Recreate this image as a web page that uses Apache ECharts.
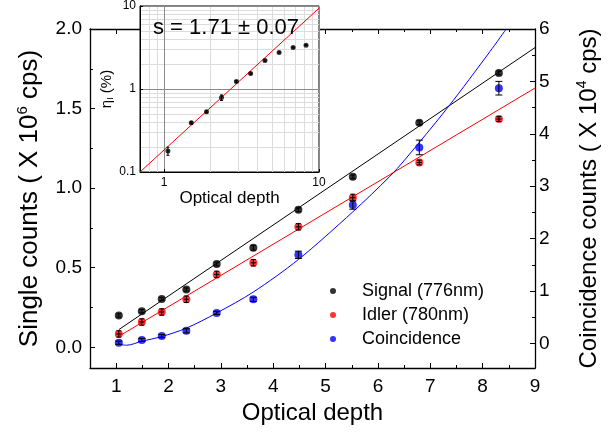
<!DOCTYPE html>
<html>
<head>
<meta charset="utf-8">
<script src="https://cdn.jsdelivr.net/npm/echarts@6/dist/echarts.min.js"></script>
<style>html,body{margin:0;padding:0;background:#fff}#c{width:616px;height:434px}</style>
</head>
<body>
<div id="c"></div>
<script>
// ---------- data ----------
const opticalDepth = [1.05, 1.49, 1.87, 2.34, 2.92, 3.62, 4.48, 5.52, 6.79, 8.31];
const signalCounts = [0.200, 0.227, 0.304, 0.363, 0.523, 0.625, 0.864, 1.071, 1.411, 1.724];
const signalErr    = [0.010, 0.010, 0.010, 0.010, 0.012, 0.015, 0.012, 0.012, 0.012, 0.012];
const idlerCounts  = [0.084, 0.159, 0.222, 0.302, 0.458, 0.531, 0.757, 0.940, 1.161, 1.434];
const idlerErr     = [0.020, 0.020, 0.020, 0.020, 0.020, 0.020, 0.020, 0.022, 0.015, 0.015];
const idlerXErr    = [0.05, 0.05, 0.05, 0.05, 0.05, 0.05, 0.05, 0.05, 0.05, 0.05];
const coincCounts  = [0.013, 0.065, 0.14, 0.24, 0.58, 0.84, 1.69, 2.64, 3.74, 4.87];
const coincErr     = [0.03, 0.03, 0.03, 0.04, 0.03, 0.04, 0.07, 0.08, 0.14, 0.13];

const signalFitX = [1.05, 9];
const signalFitY = [0.111, 1.883];
const idlerFitX  = [1.05, 9];
const idlerFitY  = [0.069, 1.629];
const coincFitX  = [1.05, 1.2, 1.49, 1.87, 2.34, 2.92, 3.62, 4.48, 5.52, 6.22, 6.51, 7.34, 8.14, 8.45];
const coincFitY  = [-0.02, -0.035, 0.04, 0.13, 0.29, 0.58, 0.98, 1.60, 2.51, 3.18, 3.50, 4.51, 5.57, 6.0];

const xMajorTicks = [1, 2, 3, 4, 5, 6, 7, 8, 9];
const xMinorTicks = [1.5, 2.5, 3.5, 4.5, 5.5, 6.5, 7.5, 8.5];
const leftMajorTicks = [0, 0.5, 1.0, 1.5, 2.0];
const leftMinorTicks = [0.25, 0.75, 1.25, 1.75];
const rightMajorTicks = [0, 1, 2, 3, 4, 5, 6];
const rightMinorTicks = [0.5, 1.5, 2.5, 3.5, 4.5, 5.5];

// inset
const insetDepth  = [1.06, 1.50, 1.88, 2.35, 2.93, 3.62, 4.48, 5.53, 6.81, 8.25];
const insetEta    = [0.179, 0.391, 0.532, 0.788, 1.235, 1.54, 2.20, 2.76, 3.16, 3.37];
const insetEtaErr = [0.020, 0.012, 0.015, 0.06, 0.03, 0.03, 0.04, 0.04, 0.04, 0.04];
const insetFitX = [0.7, 10];
const insetFitY = [0.1, 9.4];
const insetMinorX = [0.8, 0.9, 2, 3, 4, 5, 6, 7, 8, 9];
const insetMinorY = [0.2, 0.3, 0.4, 0.5, 0.6, 0.7, 0.8, 0.9, 2, 3, 4, 5, 6, 7, 8, 9];
const slopeText = 's = 1.71 \u00b1 0.07';

// ---------- chart ----------
const FONT = 'Liberation Sans, Arial, sans-serif';
const zip = (a, b) => a.map((v, i) => [v, b[i]]);
const zip3 = (a, b, c, d) => a.map((v, i) => d ? [v, b[i], c[i], d[i]] : [v, b[i], c[i]]);

function errRender(cap, color, lw) {
  return function (params, api) {
    const x = api.value(0), y = api.value(1), e = api.value(2);
    const p1 = api.coord([x, y + e]);
    const p2 = api.coord([x, y - e]);
    const st = { stroke: color, lineWidth: lw };
    const ch = [
      { type: 'line', shape: { x1: p1[0], y1: p1[1], x2: p2[0], y2: p2[1] }, style: st },
      { type: 'line', shape: { x1: p1[0] - cap, y1: p1[1], x2: p1[0] + cap, y2: p1[1] }, style: st },
      { type: 'line', shape: { x1: p2[0] - cap, y1: p2[1], x2: p2[0] + cap, y2: p2[1] }, style: st }
    ];
    const xe = api.value(3);
    if (xe && !isNaN(xe)) {
      const q1 = api.coord([x - xe, y]);
      const q2 = api.coord([x + xe, y]);
      ch.push({ type: 'line', shape: { x1: q1[0], y1: q1[1], x2: q2[0], y2: q2[1] }, style: st });
    }
    return { type: 'group', children: ch };
  };
}

const lineBlack = { color: '#000', width: 1.3 };
const tickMajor = { show: true, inside: true, length: 5, lineStyle: { color: '#000', width: 1 } };
const tickMinor = { show: true, inside: true, length: 3, lineStyle: { color: '#000', width: 1 } };
const labelStyle = { fontFamily: FONT, fontSize: 19, color: '#000' };

const chart = echarts.init(document.getElementById('c'), null, { renderer: 'canvas' });
chart.setOption({
  animation: false,
  backgroundColor: '#fff',
  title: {
    text: slopeText, left: 148, top: 12, z: 30,
    textStyle: { fontFamily: FONT, fontSize: 22, fontWeight: 'normal', color: '#000' }
  },
  legend: {
    data: ['Signal (776nm)', 'Idler (780nm)', 'Coincidence'],
    orient: 'vertical', left: 325, top: 276,
    icon: 'circle', itemWidth: 48, itemHeight: 6, itemGap: 4,
    textStyle: { fontFamily: FONT, fontSize: 18, color: '#000', lineHeight: 20 }
  },
  grid: [
    { left: 90, right: 81, top: 29, bottom: 66, containLabel: false },
    { left: 140, top: 5, width: 179, height: 167, show: true, backgroundColor: '#fff',
      borderColor: '#000', borderWidth: 1, z: 10 }
  ],
  xAxis: [
    { gridIndex: 0, type: 'value', min: 0.5, max: 9, position: 'bottom',
      axisLine: { show: true, onZero: false, lineStyle: lineBlack },
      axisTick: Object.assign({ customValues: xMajorTicks }, tickMajor),
      axisLabel: { customValues: xMajorTicks, margin: 9, ...labelStyle },
      splitLine: { show: false },
      name: 'Optical depth', nameLocation: 'middle', nameGap: 30,
      nameTextStyle: { fontFamily: FONT, fontSize: 24, color: '#000' } },
    { gridIndex: 0, type: 'value', min: 0.5, max: 9, position: 'bottom',
      axisLine: { show: false, onZero: false },
      axisTick: Object.assign({ customValues: xMinorTicks }, tickMinor),
      axisLabel: { show: false }, splitLine: { show: false } },
    { gridIndex: 0, type: 'value', min: 0.5, max: 9, position: 'top',
      axisLine: { show: true, onZero: false, lineStyle: lineBlack },
      axisTick: Object.assign({ customValues: xMajorTicks }, tickMajor),
      axisLabel: { show: false }, splitLine: { show: false } },
    { gridIndex: 0, type: 'value', min: 0.5, max: 9, position: 'top',
      axisLine: { show: false, onZero: false },
      axisTick: Object.assign({ customValues: xMinorTicks }, tickMinor),
      axisLabel: { show: false }, splitLine: { show: false } },
    // inset log x
    { gridIndex: 1, type: 'log', logBase: 10, min: 0.7, max: 10, position: 'bottom', z: 12,
      axisLine: { show: true, onZero: false, lineStyle: { color: '#000', width: 1 } },
      axisTick: { show: true, inside: true, length: 3, lineStyle: { color: '#000' } },
      axisLabel: { margin: 5, fontFamily: FONT, fontSize: 12, color: '#000',
        formatter: v => (Math.abs(v - 1) < 1e-6 || Math.abs(v - 10) < 1e-6) ? String(Math.round(v)) : '' },
      splitLine: { show: true, lineStyle: { color: '#8a8a8a', width: 1 } },
      name: 'Optical depth', nameLocation: 'middle', nameGap: 4,
      nameTextStyle: { fontFamily: FONT, fontSize: 17, color: '#000' } },
    // inset minor grid (log-space positions)
    { gridIndex: 1, type: 'value', min: Math.log10(0.7), max: 1, position: 'bottom', z: 11,
      axisLine: { show: false, onZero: false },
      axisTick: { show: false, customValues: insetMinorX.map(Math.log10) },
      axisLabel: { show: false },
      splitLine: { show: true, lineStyle: { color: '#dcdcdc', width: 1 } } }
  ],
  yAxis: [
    { gridIndex: 0, type: 'value', min: -0.13, max: 2, position: 'left',
      axisLine: { show: true, onZero: false, lineStyle: lineBlack },
      axisTick: Object.assign({ customValues: leftMajorTicks }, tickMajor),
      axisLabel: { customValues: leftMajorTicks, margin: 8, formatter: v => v.toFixed(1), ...labelStyle },
      splitLine: { show: false },
      name: '{a|Single counts ( X 10}{sup|6}{a| cps)}', nameLocation: 'middle', nameGap: 45,
      nameTextStyle: { fontFamily: FONT, fontSize: 26, color: '#000',
        rich: { a: { fontFamily: FONT, fontSize: 26, color: '#000', lineHeight: 30 },
                sup: { fontFamily: FONT, fontSize: 15, color: '#000', verticalAlign: 'top', lineHeight: 15 } } } },
    { gridIndex: 0, type: 'value', min: -0.13, max: 2, position: 'left',
      axisLine: { show: false, onZero: false },
      axisTick: Object.assign({ customValues: leftMinorTicks }, tickMinor),
      axisLabel: { show: false }, splitLine: { show: false } },
    { gridIndex: 0, type: 'value', min: -0.47, max: 6, position: 'right',
      axisLine: { show: true, onZero: false, lineStyle: lineBlack },
      axisTick: Object.assign({ customValues: rightMajorTicks }, tickMajor),
      axisLabel: { customValues: rightMajorTicks, margin: 4, ...labelStyle },
      splitLine: { show: false },
      name: '{a|Coincidence counts ( X 10}{sup|4}{a| cps)}', nameLocation: 'middle', nameGap: 40,
      nameRotate: 90,
      nameTextStyle: { fontFamily: FONT, fontSize: 24, color: '#000',
        rich: { a: { fontFamily: FONT, fontSize: 24, color: '#000', lineHeight: 28 },
                sup: { fontFamily: FONT, fontSize: 14, color: '#000', verticalAlign: 'top', lineHeight: 14 } } } },
    { gridIndex: 0, type: 'value', min: -0.47, max: 6, position: 'right',
      axisLine: { show: false, onZero: false },
      axisTick: Object.assign({ customValues: rightMinorTicks }, tickMinor),
      axisLabel: { show: false }, splitLine: { show: false } },
    // inset log y
    { gridIndex: 1, type: 'log', logBase: 10, min: 0.1, max: 10, position: 'left', z: 12,
      axisLine: { show: true, onZero: false, lineStyle: { color: '#000', width: 1 } },
      axisTick: { show: true, inside: true, length: 3, lineStyle: { color: '#000' } },
      axisLabel: { margin: 4, fontFamily: FONT, fontSize: 12, color: '#000',
        formatter: v => (v < 0.5 ? '0.1' : String(Math.round(v))) },
      splitLine: { show: true, lineStyle: { color: '#8a8a8a', width: 1 } },
      name: '{a|\u03b7}{sub|I}{a| (%)}', nameLocation: 'middle', nameGap: 19,
      nameTextStyle: { fontFamily: FONT, fontSize: 15, color: '#000',
        rich: { a: { fontFamily: FONT, fontSize: 15, color: '#000', lineHeight: 18 },
                sub: { fontFamily: FONT, fontSize: 9, color: '#000', verticalAlign: 'bottom', lineHeight: 9 } } } },
    { gridIndex: 1, type: 'value', min: -1, max: 1, position: 'left', z: 11,
      axisLine: { show: false, onZero: false },
      axisTick: { show: false, customValues: insetMinorY.map(Math.log10) },
      axisLabel: { show: false },
      splitLine: { show: true, lineStyle: { color: '#dcdcdc', width: 1 } } }
  ],
  series: [
    // fits
    { name: 'signalFit', type: 'line', xAxisIndex: 0, yAxisIndex: 0, data: zip(signalFitX, signalFitY),
      symbol: 'none', lineStyle: { color: '#000', width: 1 }, z: 3, silent: true },
    { name: 'idlerFit', type: 'line', xAxisIndex: 0, yAxisIndex: 0, data: zip(idlerFitX, idlerFitY),
      symbol: 'none', lineStyle: { color: '#ff0000', width: 1 }, z: 3, silent: true },
    { name: 'coincFit', type: 'line', xAxisIndex: 0, yAxisIndex: 2, data: zip(coincFitX, coincFitY),
      symbol: 'none', smooth: 0.3, lineStyle: { color: '#0000ff', width: 1 }, z: 3, silent: true },
    // points
    { name: 'Signal (776nm)', type: 'scatter', xAxisIndex: 0, yAxisIndex: 0,
      data: zip(opticalDepth, signalCounts), symbolSize: 8, itemStyle: { color: '#000' }, z: 4 },
    { name: 'Idler (780nm)', type: 'scatter', xAxisIndex: 0, yAxisIndex: 0,
      data: zip(opticalDepth, idlerCounts), symbolSize: 8, itemStyle: { color: '#ff0000' }, z: 4 },
    { name: 'Coincidence', type: 'scatter', xAxisIndex: 0, yAxisIndex: 2,
      data: zip(opticalDepth, coincCounts), symbolSize: 8, itemStyle: { color: '#0000ff' }, z: 4 },
    // error bars
    { type: 'custom', xAxisIndex: 0, yAxisIndex: 0, data: zip3(opticalDepth, signalCounts, signalErr),
      renderItem: errRender(2.5, '#000', 1), z: 5, silent: true },
    { type: 'custom', xAxisIndex: 0, yAxisIndex: 0, data: zip3(opticalDepth, idlerCounts, idlerErr, idlerXErr),
      renderItem: errRender(2.5, '#000', 1), z: 5, silent: true },
    { type: 'custom', xAxisIndex: 0, yAxisIndex: 2, data: zip3(opticalDepth, coincCounts, coincErr),
      renderItem: errRender(3.5, '#000', 1), z: 5, silent: true },
    // inset
    { name: 'insetFit', type: 'line', xAxisIndex: 4, yAxisIndex: 4, data: zip(insetFitX, insetFitY),
      symbol: 'none', lineStyle: { color: '#ff0000', width: 1 }, z: 13, silent: true },
    { name: 'insetEta', type: 'scatter', xAxisIndex: 4, yAxisIndex: 4, data: zip(insetDepth, insetEta),
      symbolSize: 5, itemStyle: { color: '#000' }, z: 14 },
    { type: 'custom', xAxisIndex: 4, yAxisIndex: 4, data: zip3(insetDepth, insetEta, insetEtaErr),
      renderItem: errRender(1.5, '#000', 1), z: 15, silent: true }
  ]
});
</script>
</body>
</html>
